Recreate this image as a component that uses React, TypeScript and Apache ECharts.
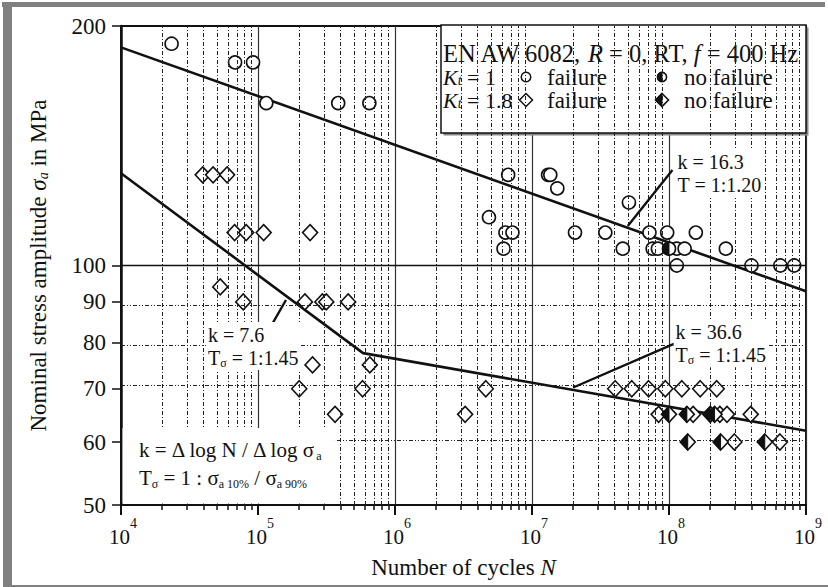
import React, { useEffect, useRef } from "react";
import * as echarts from "echarts";

const FONT = '"Liberation Serif", "Times New Roman", serif';
const INK = "#111";

// Number of cycles N vs. nominal stress amplitude (MPa)
const kt1Failure: [number, number][] = [
  [2.34e4, 190], [6.8e4, 180], [9.2e4, 180],
  [1.15e5, 160], [3.85e5, 160], [6.5e5, 160],
  [6.7e6, 130], [1.31e7, 130], [1.36e7, 130], [1.53e7, 125],
  [5.1e7, 120], [4.85e6, 115],
  [6.4e6, 110], [7.2e6, 110], [2.06e7, 110], [3.43e7, 110], [7.2e7, 110], [9.7e7, 110], [1.57e8, 110],
  [6.2e6, 105], [4.6e7, 105], [7.6e7, 105], [8.3e7, 105], [1.14e8, 105], [1.3e8, 105], [2.6e8, 105],
  [1.14e8, 100], [4.0e8, 100], [6.5e8, 100], [8.2e8, 100],
];
const kt1Runout: [number, number][] = [[1.0e8, 105]];

const kt18Failure: [number, number][] = [
  [3.95e4, 130], [4.7e4, 130], [5.95e4, 130],
  [6.75e4, 110], [8.2e4, 110], [1.1e5, 110], [2.4e5, 110],
  [5.3e4, 94],
  [7.8e4, 90], [2.2e5, 90], [2.95e5, 90], [3.15e5, 90], [4.55e5, 90],
  [2.5e5, 75], [6.55e5, 75],
  [2.0e5, 70], [5.8e5, 70], [4.6e6, 70],
  [3.65e5, 65], [3.25e6, 65],
  [4.05e7, 70], [5.35e7, 70], [7.1e7, 70], [9.4e7, 70], [1.24e8, 70], [1.69e8, 70], [2.23e8, 70],
  [8.4e7, 65], [1.5e8, 65], [2.35e8, 65], [2.65e8, 65], [3.95e8, 65],
  [3.0e8, 60], [6.45e8, 60],
];
const kt18Runout: [number, number][] = [
  [1.0e8, 65], [1.35e8, 65], [2.0e8, 65], [2.15e8, 65],
  [1.37e8, 60], [2.38e8, 60], [5.0e8, 60],
];

// Fitted S-N curves
const curveKt1: [number, number][] = [[1e4, 188], [1e9, 92.8]];
const curveKt18: [number, number][] = [[1e4, 130.6], [5.85e5, 77.6], [1e9, 62.0]];

// Axis ticks
const decadeExponents = [4, 5, 6, 7, 8, 9];
const minorMultipliers = [2, 3, 4, 5, 6, 7, 8, 9];
const stressTicks = [50, 60, 70, 80, 90, 100, 200];
const stressDotted = [60, 70, 80, 90];
const stressSolid = [100];

// Curve annotations: text block top-left and leader line, in [N, sigma]
const notes = [
  { text: "k = 16.3\nT = 1:1.20", at: [1.117e8, 139.7], from: [5e7, 112.1], to: [1.06e8, 131.8] },
  { text: "k = 7.6\nT{s|σ} = 1:1.45", at: [4.17e4, 84.9], from: [1.2e5, 83.0], to: [1.6e5, 90.5] },
  { text: "k = 36.6\nT{s|σ} = 1:1.45", at: [1.08e8, 85.6], from: [2e7, 70.25], to: [1.117e8, 79.9] },
];
// Corners of the definitions box
const defBox = { from: [1e4, 62.5], to: [3.64e5, 50] };

const lg = (pts: number[][]) => pts.map(([n, s]) => [Math.log10(n), Math.log10(s)]);
const minorPositions: number[] = [];
decadeExponents.slice(0, -1).forEach((d) =>
  minorMultipliers.forEach((m) => minorPositions.push(d + Math.log10(m)))
);

const richBase = (size: number, extra: any = {}) => ({
  fontFamily: FONT,
  fontSize: size,
  color: INK,
  ...extra,
});

export default function App() {
  const ref = useRef<HTMLDivElement>(null);

  useEffect(() => {
    if (!ref.current) return;
    const chart = echarts.init(ref.current, null, { renderer: "svg" });

    const halfDiamond = (cx: number, cy: number, w: number, h: number) => [
      {
        type: "polygon",
        shape: { points: [[cx, cy - h], [cx + w, cy], [cx, cy + h], [cx - w, cy]] },
        style: { fill: "#fff", stroke: INK, lineWidth: 1.6 },
      },
      {
        type: "polygon",
        shape: { points: [[cx, cy - h], [cx, cy + h], [cx - w, cy]] },
        style: { fill: INK, stroke: INK, lineWidth: 1 },
      },
    ];
    const halfCircle = (cx: number, cy: number, r: number) => [
      { type: "circle", shape: { cx, cy, r }, style: { fill: "#fff", stroke: INK, lineWidth: 1.6 } },
      {
        type: "sector",
        shape: { cx, cy, r, r0: 0, startAngle: Math.PI / 2, endAngle: Math.PI * 1.5 },
        style: { fill: INK, stroke: INK, lineWidth: 1 },
      },
    ];

    chart.setOption({
      animation: false,
      grid: { left: 121, top: 26, width: 685, height: 479, show: true, borderColor: INK, borderWidth: 2, backgroundColor: "#fff" },
      xAxis: [
        {
          type: "value",
          min: 4,
          max: 9,
          interval: 1,
          position: "bottom",
          name: "Number of cycles {i|N}",
          nameLocation: "middle",
          nameGap: 51,
          nameTextStyle: richBase(23, {
            rich: { i: richBase(23, { fontStyle: "italic" }) },
          }),
          axisLine: { show: true, lineStyle: { color: INK, width: 2.2 } },
          axisTick: { show: true, inside: false, length: 10, lineStyle: { color: INK, width: 2 } },
          axisLabel: { show: false },
          splitLine: { show: true, lineStyle: { color: "#333", width: 1.2, type: "solid" } },
        },
        {
          type: "value",
          min: 4,
          max: 9,
          position: "bottom",
          axisLine: { show: false },
          axisLabel: { show: false },
          splitLine: { show: false },
          axisTick: { show: true, inside: false, length: 5, customValues: minorPositions, lineStyle: { color: INK, width: 1.5 } },
        },
      ],
      yAxis: {
        type: "value",
        min: Math.log10(50),
        max: Math.log10(200),
        name: "Nominal stress amplitude {g|σ}{a|a} in MPa",
        nameLocation: "middle",
        nameRotate: 90,
        nameGap: 71,
        nameTextStyle: richBase(23, {
          lineHeight: 24,
          rich: {
            g: richBase(23, { fontStyle: "italic", lineHeight: 24 }),
            a: richBase(14, { fontStyle: "italic", lineHeight: 12, verticalAlign: "bottom" }),
          },
        }),
        axisLine: { show: true, lineStyle: { color: INK, width: 2.5 } },
        axisTick: {
          show: true,
          inside: false,
          length: 9,
          customValues: stressTicks.map((v) => Math.log10(v)),
          lineStyle: { color: INK, width: 1.5 },
        },
        axisLabel: {
          margin: 15,
          fontFamily: FONT,
          fontSize: 23,
          color: INK,
          customValues: stressTicks.map((v) => Math.log10(v)),
          formatter: (v: number) => String(Math.round(Math.pow(10, v))),
        },
        splitLine: { show: false },
      },
      series: [
        {
          name: "grid",
          type: "line",
          data: [],
          silent: true,
          z: 1,
          markLine: {
            silent: true,
            symbol: ["none", "none"],
            label: { show: false },
            data: [
              ...minorPositions.map((x) => ({ xAxis: x, lineStyle: { type: [4, 2, 1, 2], color: "#222", width: 1 } })),
              ...stressDotted.map((v) => ({ yAxis: Math.log10(v), lineStyle: { type: [4, 2, 1, 2, 1, 2], color: "#222", width: 1 } })),
              ...stressSolid.map((v) => ({ yAxis: Math.log10(v), lineStyle: { type: "solid", color: INK, width: 1.4 } })),
            ],
          },
        },
        {
          name: "Kt = 1 curve",
          type: "line",
          data: lg(curveKt1),
          showSymbol: false,
          lineStyle: { color: INK, width: 2.6 },
          z: 3,
        },
        {
          name: "Kt = 1.8 curve",
          type: "line",
          data: lg(curveKt18),
          showSymbol: false,
          lineStyle: { color: INK, width: 2.6 },
          z: 3,
        },
        {
          name: "Kt = 1 failure",
          type: "scatter",
          data: lg(kt1Failure),
          symbol: "circle",
          symbolSize: 13,
          itemStyle: { color: "#fff", borderColor: INK, borderWidth: 1.6, opacity: 1 },
          z: 4,
        },
        {
          name: "Kt = 1.8 failure",
          type: "scatter",
          data: lg(kt18Failure),
          symbol: "diamond",
          symbolSize: [15, 16],
          itemStyle: { color: "#fff", borderColor: INK, borderWidth: 1.6, opacity: 1 },
          z: 4,
        },
        {
          name: "Kt = 1 no failure",
          type: "custom",
          data: lg(kt1Runout),
          z: 5,
          renderItem: (_p: any, api: any) => {
            const [cx, cy] = api.coord([api.value(0), api.value(1)]);
            return { type: "group", children: halfCircle(cx, cy, 6.5) };
          },
        },
        {
          name: "Kt = 1.8 no failure",
          type: "custom",
          data: lg(kt18Runout),
          z: 5,
          renderItem: (_p: any, api: any) => {
            const [cx, cy] = api.coord([api.value(0), api.value(1)]);
            return { type: "group", children: halfDiamond(cx, cy, 7.5, 8) };
          },
        },
      ],
    });

    const toPx = (logPoint: number[]) =>
      chart.convertToPixel({ xAxisIndex: 0, yAxisIndex: 0 }, logPoint) as number[];
    const px = (p: number[]) => toPx([Math.log10(p[0]), Math.log10(p[1])]);

    const elements: any[] = [];

    // Decade labels 10^n under the x axis
    decadeExponents.forEach((d) => {
      const p = toPx([d, Math.log10(stressTicks[0])]);
      elements.push({
        type: "text",
        x: p[0] - 1.5,
        y: p[1] + 32,
        style: { text: "10", fontFamily: FONT, fontSize: 21, fill: INK, align: "center", verticalAlign: "middle" },
      });
      elements.push({
        type: "text",
        x: p[0] + 9,
        y: p[1] + 18,
        style: { text: String(d), fontFamily: FONT, fontSize: 14, fill: INK, align: "left", verticalAlign: "middle" },
      });
    });

    // Curve annotations with leaders
    notes.forEach((n) => {
      const a = px(n.at);
      const f = px(n.from);
      const t = px(n.to);
      elements.push({
        type: "line",
        z: 21,
        shape: { x1: f[0], y1: f[1], x2: t[0], y2: t[1] },
        style: { stroke: INK, lineWidth: 2.4 },
      });
      elements.push({
        type: "text",
        z: 22,
        x: a[0],
        y: a[1],
        style: {
          text: n.text,
          fontFamily: FONT,
          fontSize: 20,
          lineHeight: 23,
          fill: INK,
          backgroundColor: "#fff",
          padding: [1, 2, 1, 2],
          rich: {
            s: { fontFamily: FONT, fontSize: 12, lineHeight: 10, verticalAlign: "bottom", fill: INK },
          },
        },
      });
    });

    // Definitions box
    const b0 = px(defBox.from);
    const b1 = px(defBox.to);
    elements.push({
      type: "rect",
      z: 20,
      shape: { x: b0[0] + 1.5, y: b0[1], width: b1[0] - b0[0] - 1.5, height: b1[1] - b0[1] - 1.5 },
      style: { fill: "#fff" },
    });
    const subStyle = { fontFamily: FONT, fontSize: 12, lineHeight: 10, verticalAlign: "bottom", fill: INK };
    elements.push({
      type: "text",
      z: 22,
      x: b0[0] + 18,
      y: b0[1] + 22,
      style: {
        text: "k = Δ log N / Δ log σ{s|a}",
        fontFamily: FONT,
        fontSize: 21,
        lineHeight: 24,
        fill: INK,
        verticalAlign: "middle",
        rich: { s: subStyle },
      },
    });
    elements.push({
      type: "text",
      z: 22,
      x: b0[0] + 18,
      y: b0[1] + 50,
      style: {
        text: "T{s|σ} = 1 : σ{s|a 10%} / σ{s|a 90%}",
        fontFamily: FONT,
        fontSize: 21,
        lineHeight: 24,
        fill: INK,
        verticalAlign: "middle",
        rich: { s: subStyle },
      },
    });

    // Legend box
    const lgText = (text: string, x: number, y: number, size: number) => ({
      type: "text",
      x,
      y,
      style: {
        text,
        fontFamily: FONT,
        fontSize: size,
        lineHeight: 21,
        fill: INK,
        verticalAlign: "middle",
        rich: {
          i: { fontFamily: FONT, fontSize: size, fontStyle: "italic", lineHeight: 21, fill: INK },
          t: { fontFamily: FONT, fontSize: 14, fontStyle: "italic", lineHeight: 11, verticalAlign: "bottom", fill: INK },
        },
      },
    });
    elements.push({
      type: "group",
      x: 441,
      y: 25,
      z: 30,
      children: [
        { type: "rect", shape: { x: 2.5, y: 2.5, width: 365, height: 108 }, style: { fill: "#888" } },
        { type: "rect", shape: { x: 0, y: 0, width: 365, height: 108 }, style: { fill: "#fff", stroke: INK, lineWidth: 1.5 } },
        lgText("EN AW 6082, {i|R} = 0, RT, {i|f} = 400 Hz", 2, 28, 24.5),
        lgText("{i|K}{t|t} = 1", 2, 52, 22),
        { type: "circle", shape: { cx: 85, cy: 52, r: 4.8 }, style: { fill: "#fff", stroke: INK, lineWidth: 1.5 } },
        lgText("failure", 106, 52, 23),
        { type: "group", children: halfCircle(221, 52, 4.6) },
        lgText("no failure", 243, 52, 23),
        lgText("{i|K}{t|t} = 1.8", 2, 75, 22),
        {
          type: "polygon",
          shape: { points: [[85, 68.5], [91.5, 75], [85, 81.5], [78.5, 75]] },
          style: { fill: "#fff", stroke: INK, lineWidth: 1.5 },
        },
        lgText("failure", 106, 75, 23),
        { type: "group", children: halfDiamond(221, 75, 6.5, 6.5) },
        lgText("no failure", 243, 75, 23),
      ],
    });

    chart.setOption({ graphic: elements });

    return () => chart.dispose();
  }, []);

  return (
    <div style={{ position: "fixed", left: 0, top: 0, width: 828, height: 587, background: "#fff", overflow: "hidden" }}>
      <div ref={ref} style={{ position: "absolute", left: 0, top: 0, width: 828, height: 587 }} />
      <div style={{ position: "absolute", left: 2, top: 2, width: 823, height: 5, background: "#808080" }} />
      <div style={{ position: "absolute", left: 3, top: 2, width: 9, height: 585, background: "#808080" }} />
      <div style={{ position: "absolute", left: 3, top: 585, width: 825, height: 1.5, background: "#808080" }} />
    </div>
  );
}
